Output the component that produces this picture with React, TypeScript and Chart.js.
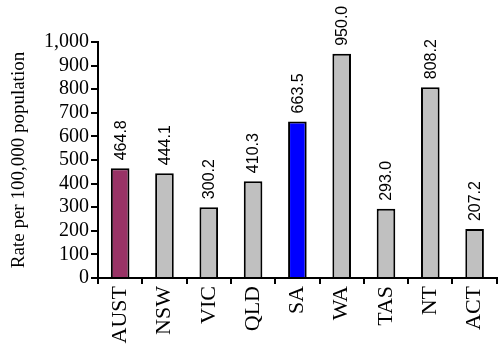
import React, { useEffect, useRef } from "react";
import { Chart, registerables } from "chart.js";

Chart.register(...registerables);

const categories = ["AUST", "NSW", "VIC", "QLD", "SA", "WA", "TAS", "NT", "ACT"];
const rates = [464.8, 444.1, 300.2, 410.3, 663.5, 950.0, 293.0, 808.2, 207.2];
const barColors = ["#993366", "#C0C0C0", "#C0C0C0", "#C0C0C0", "#0000FF", "#C0C0C0", "#C0C0C0", "#C0C0C0", "#C0C0C0"];
const yTitle = "Rate per 100,000 population";

const valueLabels = {
  id: "valueLabels",
  afterDatasetsDraw(chart: any) {
    const ctx = chart.ctx;
    const meta = chart.getDatasetMeta(0);
    ctx.save();
    ctx.font = "16px 'Liberation Sans', Arial, sans-serif";
    ctx.fillStyle = "#000";
    ctx.textAlign = "left";
    ctx.textBaseline = "middle";
    meta.data.forEach((bar: any, i: number) => {
      ctx.save();
      ctx.translate(bar.x + 1, bar.y - 8);
      ctx.rotate(-Math.PI / 2);
      ctx.fillText(rates[i].toFixed(1), 0, 0);
      ctx.restore();
    });
    ctx.restore();
  },
};

export default function App() {
  const ref = useRef<HTMLCanvasElement>(null);
  useEffect(() => {
    if (!ref.current) return;
    const chart = new Chart(ref.current, {
      type: "bar",
      data: {
        labels: categories,
        datasets: [
          {
            data: rates,
            backgroundColor: barColors,
            borderColor: "#000",
            borderWidth: 2,
            barPercentage: 0.42,
            categoryPercentage: 1,
          },
        ],
      },
      options: {
        animation: false,
        responsive: false,
        maintainAspectRatio: false,
        layout: { padding: { top: 42, left: 0, right: -4, bottom: 0 } },
        plugins: { legend: { display: false }, tooltip: { enabled: false } },
        scales: {
          x: {
            offset: true,
            grid: {
              offset: true,
              drawOnChartArea: false,
              drawTicks: true,
              tickLength: 6,
              color: "#000",
              lineWidth: 2,
            },
            border: { color: "#000", width: 2 },
            ticks: {
              minRotation: 90,
              maxRotation: 90,
              autoSkip: false,
              color: "#000",
              padding: 2,
              font: { family: "'Liberation Serif', 'Times New Roman', serif", size: 22 },
            },
            afterFit: (s: any) => {
              s.height = 71;
            },
          },
          y: {
            min: 0,
            max: 1000,
            grid: {
              drawOnChartArea: false,
              drawTicks: true,
              tickLength: 7,
              color: "#000",
              lineWidth: 2,
            },
            border: { color: "#000", width: 2 },
            ticks: {
              stepSize: 100,
              autoSkip: false,
              color: "#000",
              padding: 2,
              font: { family: "'Liberation Serif', 'Times New Roman', serif", size: 20 },
              callback: (v: any) => Number(v).toLocaleString("en-US"),
            },
            title: {
              display: true,
              text: yTitle,
              color: "#000",
              padding: { top: 8, bottom: 0 },
              font: { family: "'Liberation Serif', 'Times New Roman', serif", size: 19 },
            },
            afterFit: (s: any) => {
              s.width = 98;
            },
          },
        },
      },
      plugins: [valueLabels],
    });
    return () => chart.destroy();
  }, []);
  return (
    <div style={{ position: "fixed", left: 0, top: 0, width: 503, height: 349, background: "#fff" }}>
      <canvas ref={ref} width={503} height={349} style={{ display: "block", width: 503, height: 349 }} />
    </div>
  );
}
